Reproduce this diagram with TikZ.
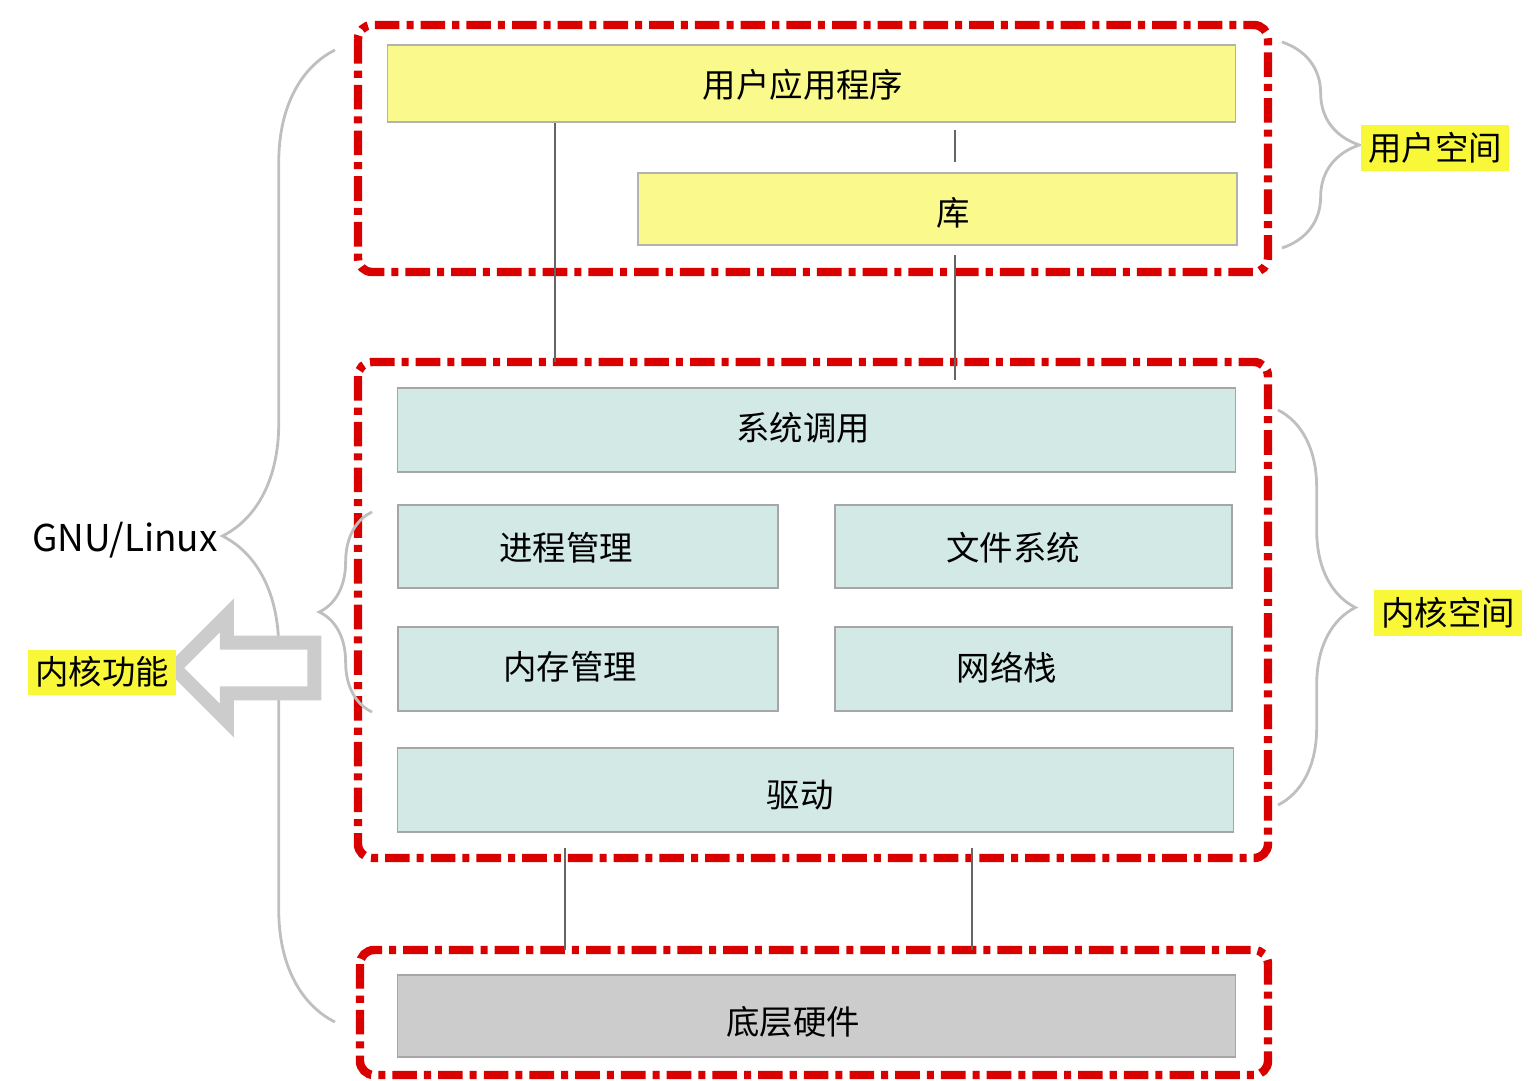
\documentclass[tikz,border=0pt]{standalone}
\usepackage{fontspec}
\setmainfont{Noto Sans CJK SC}
\usetikzlibrary{decorations.pathreplacing,shapes.arrows}
\definecolor{kern}{HTML}{D3E9E6}
\definecolor{usr}{HTML}{FAFA8C}
\definecolor{hilite}{HTML}{F8F838}
\tikzset{
    global scale/.style={scale=#1,every node/.append style={scale=#1}},
    RG/.style ={draw=red!85!black, line width=2.4pt, dash pattern=on 7pt off 2pt on 2pt off 2pt},
    UB/.style ={draw=gray!60, fill=usr, font=\fontsize{9.5}{11}\selectfont},
    KB/.style ={draw=gray!70, fill=kern, font=\fontsize{9.5}{11}\selectfont},
    HB/.style ={draw=gray!70, fill=gray!40, font=\fontsize{9.5}{11}\selectfont},
    BR/.style ={draw=gray!50, thick, decorate, decoration={brace,amplitude=22pt}},
    LK/.style ={draw=gray!80!black, thick},
    HL/.style ={fill=hilite, inner sep=2pt, font=\fontsize{9.5}{11}\selectfont}}

\begin{document}
\begin{tikzpicture}[x=0.01cm,y=-0.01cm]
    \useasboundingbox (0,0) rectangle (1538,1081);
    % regions
    \draw[RG,rounded corners=4pt] (358,25) rectangle (1268,272);
    \draw[RG,rounded corners=4pt] (358,362) rectangle (1268,858);
    \draw[RG,rounded corners=4pt] (360,950) rectangle (1268,1075);
    % user space
    \node[UB,minimum width=8.47cm,minimum height=0.77cm] (app) at (811.5,83.5){};
    \node at (803,85) {\fontsize{9.5}{11}\selectfont 用户应用程序};
    \node[UB,minimum width=5.99cm,minimum height=0.72cm] (lib) at (937.5,209){};
    \node at (953,213) {\fontsize{9.5}{11}\selectfont 库};
    % kernel space
    \node[KB,minimum width=8.37cm,minimum height=0.84cm] (sys) at (816.5,430){};
    \node at (803,428) {\fontsize{9.5}{11}\selectfont 系统调用};
    \node[KB,minimum width=3.8cm,minimum height=0.83cm] (proc) at (588,546.5){};
    \node at (566,548) {\fontsize{9.5}{11}\selectfont 进程管理};
    \node[KB,minimum width=3.97cm,minimum height=0.83cm] (fs) at (1033.5,546.5){};
    \node at (1013,548) {\fontsize{9.5}{11}\selectfont 文件系统};
    \node[KB,minimum width=3.8cm,minimum height=0.84cm] (mem) at (588,669){};
    \node at (570,667) {\fontsize{9.5}{11}\selectfont 内存管理};
    \node[KB,minimum width=3.97cm,minimum height=0.84cm] (net) at (1033.5,669){};
    \node at (1007,668) {\fontsize{9.5}{11}\selectfont 网络栈};
    \node[KB,minimum width=8.35cm,minimum height=0.84cm] (drv) at (815.5,790){};
    \node at (800,795) {\fontsize{9.5}{11}\selectfont 驱动};
    % hardware
    \node[HB,minimum width=8.37cm,minimum height=0.82cm] (hw) at (816.5,1016){};
    \node at (793,1022) {\fontsize{9.5}{11}\selectfont 底层硬件};
    % links
    \coordinate (a1) at (555,362);
    \coordinate (a2) at (955,162);
    \coordinate (a3) at (955,380);
    \coordinate (l1) at (955,255);
    \coordinate (d1) at (565,848);
    \coordinate (d2) at (972,848);
    \coordinate (h1) at (565,950);
    \coordinate (h2) at (972,950);
    \draw[LK] (app.south -| a1) -- (a1);
    \draw[LK] (955,130) -- (a2);
    \draw[LK] (l1) -- (a3);
    \draw[LK] (d1) -- (h1);
    \draw[LK] (d2) -- (h2);
    % braces
    \draw[BR,decoration={brace,amplitude=32pt}] (335,1022) -- (335,50);
    \node (gnu) at (125,540) {\fontsize{10.5}{12}\selectfont GNU/Linux};
    \draw[BR] (1282,42) -- (1282,248);
    \node[HL] (us) at (1435,148) {用户空间};
    \draw[BR] (1278,410) -- (1278,805);
    \node[HL] (ks) at (1448,613) {内核空间};
    \draw[BR,decoration={brace,amplitude=15pt}] (372,712) -- (372,512);
    \node[single arrow, draw=gray!40, line width=4pt, fill=white, shape border rotate=180,
        minimum width=1.05cm, single arrow head extend=0.2cm, minimum height=1.4cm] (arr) at (257,668) {};
    \node[HL] (kf) at (102,672) {内核功能};
\end{tikzpicture}
\end{document}
